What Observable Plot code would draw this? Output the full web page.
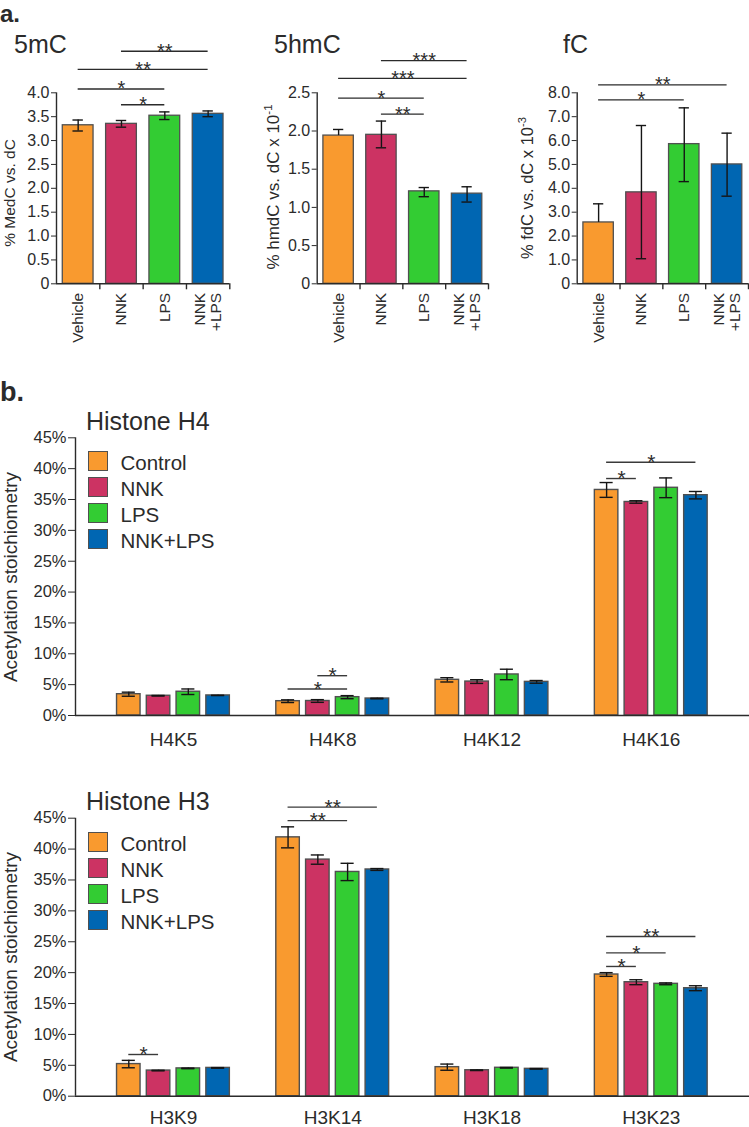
<!DOCTYPE html>
<html>
<head>
<meta charset="utf-8">
<script src="https://cdn.jsdelivr.net/npm/d3@7"></script>
<script src="https://cdn.jsdelivr.net/npm/@observablehq/plot@0.6"></script>
<style>
  body { margin: 0; background: #fff; }
  #root { position: relative; width: 749px; height: 1127px; overflow: hidden; background: #fff;
          font-family: "Liberation Sans", Arial, Helvetica, sans-serif; color: #2b2b2b; }
  .abs { position: absolute; white-space: nowrap; line-height: 1; }
  .abs svg { overflow: visible; }
  sup { font-size: 0.68em; vertical-align: 0.6em; line-height: 0; }
</style>
</head>
<body>
<div id="root"></div>
<script>
// ---------------- data ----------------
const treatmentsA = ["Vehicle", "NNK", "LPS", "NNK\n+LPS"];
const treatmentsB = ["Control", "NNK", "LPS", "NNK+LPS"];
const colors = ["#F99A2F", "#CC3363", "#33CC33", "#0066B2"];

// panel a: 5mC (% MedC vs. dC)
const mC_mean = [3.32, 3.35, 3.52, 3.56];
const mC_lo   = [3.20, 3.28, 3.44, 3.50];
const mC_hi   = [3.43, 3.42, 3.60, 3.62];
const mC_sig  = [{a: 1, b: 3, s: "**", y: 4.87}, {a: 0, b: 3, s: "**", y: 4.49},
                 {a: 0, b: 2, s: "*", y: 4.08}, {a: 1, b: 2, s: "*", y: 3.75}];
const mC_ticks = [0, 0.5, 1, 1.5, 2, 2.5, 3, 3.5, 4];

// panel a: 5hmC (% hmdC vs. dC x 10^-1)
const hmC_mean = [1.94, 1.95, 1.21, 1.18];
const hmC_lo   = [1.94, 1.78, 1.14, 1.07];
const hmC_hi   = [2.02, 2.13, 1.26, 1.27];
const hmC_sig  = [{a: 1, b: 3, s: "***", y: 2.92}, {a: 0, b: 3, s: "***", y: 2.69},
                  {a: 0, b: 2, s: "*", y: 2.43}, {a: 1, b: 2, s: "**", y: 2.22}];
const hmC_ticks = [0, 0.5, 1, 1.5, 2, 2.5];

// panel a: fC (% fdC vs. dC x 10^-3)
const fC_mean = [2.57, 3.83, 5.85, 5.00];
const fC_lo   = [2.57, 1.05, 4.28, 3.67];
const fC_hi   = [3.35, 6.63, 7.37, 6.31];
const fC_sig  = [{a: 0, b: 3, s: "**", y: 8.33}, {a: 0, b: 2, s: "*", y: 7.70}];
const fC_ticks = [0, 1, 2, 3, 4, 5, 6, 7, 8];

// panel b: Histone H4 acetylation stoichiometry (%)
const h4Sites = ["H4K5", "H4K8", "H4K12", "H4K16"];
const h4Mean = [[3.45, 3.20, 3.85, 3.25], [2.32, 2.35, 2.97, 2.75], [5.78, 5.50, 6.65, 5.45], [36.55, 34.60, 36.90, 35.70]];
const h4Err  = [[0.33, 0.05, 0.45, 0.02], [0.22, 0.22, 0.25, 0.05], [0.35, 0.30, 0.85, 0.22], [1.20, 0.20, 1.60, 0.60]];
const h4Sig  = [{g: 1, a: 0, b: 2, s: "*", y: 4.3}, {g: 1, a: 1, b: 2, s: "*", y: 6.45},
                {g: 3, a: 0, b: 1, s: "*", y: 38.4}, {g: 3, a: 0, b: 3, s: "*", y: 41.05}];

// panel b: Histone H3
const h3Sites = ["H3K9", "H3K14", "H3K18", "H3K23"];
const h3Mean = [[5.20, 4.15, 4.50, 4.58], [41.90, 38.30, 36.30, 36.70], [4.70, 4.20, 4.60, 4.43], [19.70, 18.45, 18.19, 17.48]];
const h3Err  = [[0.60, 0.05, 0.05, 0.05], [1.70, 0.75, 1.40, 0.15], [0.50, 0.05, 0.05, 0.05], [0.30, 0.40, 0.15, 0.40]];
const h3Sig  = [{g: 0, a: 0, b: 1, s: "*", y: 6.75}, {g: 1, a: 0, b: 2, s: "**", y: 44.6},
                {g: 1, a: 0, b: 3, s: "**", y: 46.8}, {g: 3, a: 0, b: 1, s: "*", y: 21.0},
                {g: 3, a: 0, b: 2, s: "*", y: 23.2}, {g: 3, a: 0, b: 3, s: "**", y: 25.85}];
const pctTicks = [0, 5, 10, 15, 20, 25, 30, 35, 40, 45];

// ---------------- helpers ----------------
const root = document.getElementById("root");
const INK = "#2b2b2b";
const plotStyle = {fontFamily: "'Liberation Sans', Arial, Helvetica, sans-serif", background: "transparent", color: INK, overflow: "visible"};

function place(node, left, top) {
  const d = document.createElement("div");
  d.className = "abs";
  d.style.left = left + "px";
  d.style.top = top + "px";
  d.appendChild(node);
  root.appendChild(d);
  return d;
}
function label(html, x, baseline, size, bold, lh) {
  const d = document.createElement("div");
  d.className = "abs";
  const l = lh || 1;
  d.style.lineHeight = String(l);
  d.style.left = x + "px";
  d.style.top = (baseline - (0.905 + (l - 1.117) / 2) * size) + "px";
  d.style.fontSize = size + "px";
  if (bold) d.style.fontWeight = "bold";
  d.innerHTML = html;
  root.appendChild(d);
}
function vlabel(html, cx, cy, size) {
  const d = document.createElement("div");
  d.className = "abs";
  d.style.left = cx + "px";
  d.style.top = cy + "px";
  d.style.fontSize = size + "px";
  d.style.transform = "translate(-50%,-50%) rotate(-90deg)";
  d.innerHTML = html;
  root.appendChild(d);
}
function legend(top0) {
  treatmentsB.forEach((t, i) => {
    const sw = document.createElement("div");
    sw.className = "abs";
    Object.assign(sw.style, {left: "88px", top: (top0 + i * 26.2) + "px", width: "18px", height: "18px",
      background: colors[i], border: "1.3px solid #505050"});
    root.appendChild(sw);
    label(t, 120.5, top0 + i * 26.2 + 19.5, 20.5);
  });
}

function panelA(cfg) {
  const n = cfg.mean.length, idx = d3.range(n);
  const caps = [];
  idx.forEach(i => {
    caps.push({i, v: cfg.hi[i]});
    if (cfg.lo[i] < cfg.mean[i]) caps.push({i, v: cfg.lo[i]});
  });
  const yMax = cfg.ticks[cfg.ticks.length - 1];
  const chart = Plot.plot({
    width: cfg.w, height: 380,
    marginLeft: cfg.ml, marginRight: cfg.mr, marginTop: 92.3, marginBottom: 96.7,
    style: plotStyle,
    x: {type: "linear", domain: [-0.5, n - 0.5]},
    y: {domain: [0, yMax]},
    color: {domain: treatmentsA, range: colors},
    marks: [
      Plot.rectY(idx, {x1: i => i - 0.355, x2: i => i + 0.355, y1: 0, y2: i => cfg.mean[i],
        fill: i => treatmentsA[i], stroke: "#505050", strokeWidth: 1.3}),
      Plot.ruleX(idx, {x: i => i, y1: i => cfg.lo[i], y2: i => cfg.hi[i], stroke: "#151515", strokeWidth: 1.4}),
      Plot.ruleY(caps, {y: "v", x1: d => d.i - 0.12, x2: d => d.i + 0.12, stroke: "#151515", strokeWidth: 1.4}),
      Plot.ruleY(cfg.sig, {y: "y", x1: "a", x2: "b", stroke: INK, strokeWidth: 1.3}),
      Plot.text(cfg.sig, {x: d => (d.a + d.b) / 2, y: "y", text: "s", fontSize: 20, lineAnchor: "middle", fill: INK}),
      Plot.ruleX([-0.5], {y1: 0, y2: yMax, stroke: INK, strokeWidth: 1.4}),
      Plot.ruleY([0], {x1: -0.5, x2: n - 0.5, stroke: INK, strokeWidth: 1.4}),
      Plot.ruleX(d3.range(0.5, n), {y1: 0, y2: 0, insetBottom: -6, stroke: INK, strokeWidth: 1.4}),
      Plot.axisY({ticks: cfg.ticks, tickSize: 5, tickPadding: 2, fontSize: 16, label: null,
        tickFormat: d => d === 0 ? "0" : d.toFixed(1)}),
      Plot.axisX({ticks: idx, tickSize: 0, tickPadding: 9, tickRotate: -90, fontSize: 15.5, label: null,
        tickFormat: i => treatmentsA[i]})
    ]
  });
  place(chart, cfg.left, 0);
}

const G = 5.35;           // spacing between lysine groups, in bar steps
const bDomain = [-1.79, 20.85];

function panelB(cfg) {
  const data = [];
  cfg.sites.forEach((s, g) => treatmentsB.forEach((t, i) =>
    data.push({g, i, t, x: g * G + i, m: cfg.mean[g][i], e: cfg.err[g][i]})));
  const caps = data.flatMap(d => [{x: d.x, v: d.m + d.e}, {x: d.x, v: d.m - d.e}]);
  const chart = Plot.plot({
    width: 749, height: cfg.h,
    marginLeft: 75, marginRight: 0, marginTop: cfg.mt, marginBottom: cfg.mb,
    style: plotStyle,
    x: {type: "linear", domain: bDomain},
    y: {domain: [0, 45]},
    color: {domain: treatmentsB, range: colors},
    marks: [
      Plot.rectY(data, {x1: d => d.x - 0.395, x2: d => d.x + 0.395, y1: 0, y2: "m",
        fill: "t", stroke: "#505050", strokeWidth: 1.4}),
      Plot.ruleX(data, {x: "x", y1: d => d.m - d.e, y2: d => d.m + d.e, stroke: "#151515", strokeWidth: 1.4}),
      Plot.ruleY(caps, {y: "v", x1: d => d.x - 0.22, x2: d => d.x + 0.22, stroke: "#151515", strokeWidth: 1.4}),
      Plot.ruleY(cfg.sig, {y: "y", x1: d => d.g * G + d.a, x2: d => d.g * G + d.b, stroke: "#3a3a3a", strokeWidth: 1.4}),
      Plot.text(cfg.sig, {x: d => d.g * G + (d.a + d.b) / 2, y: "y", text: "s", fontSize: 21, lineAnchor: "middle", fill: INK}),
      Plot.ruleX([bDomain[0]], {y1: 0, y2: 45, stroke: INK, strokeWidth: 1.4}),
      Plot.ruleY([0], {stroke: INK, strokeWidth: 1.4}),
      Plot.axisY({ticks: pctTicks, tickSize: 7, tickPadding: 2, fontSize: 16.5, label: null,
        tickFormat: d => d + "%"}),
      Plot.axisX({ticks: cfg.sites.map((s, g) => g * G + 1.5), tickSize: 0, tickPadding: cfg.tp, fontSize: 19, label: null,
        tickFormat: d => cfg.sites[Math.round((d - 1.5) / G)]})
    ]
  });
  place(chart, 0, cfg.top);
}

// ---------------- panel a ----------------
panelA({mean: mC_mean, lo: mC_lo, hi: mC_hi, sig: mC_sig, ticks: mC_ticks, left: 0, w: 250, ml: 56, mr: 20.7});
panelA({mean: hmC_mean, lo: hmC_lo, hi: hmC_hi, sig: hmC_sig, ticks: hmC_ticks, left: 250, w: 250, ml: 66.7, mr: 12});
panelA({mean: fC_mean, lo: fC_lo, hi: fC_hi, sig: fC_sig, ticks: fC_ticks, left: 500, w: 249, ml: 76.7, mr: 1});

label("a.", 0, 22, 24, true);
label("5mC", 14, 53, 25);
label("5hmC", 274, 53, 25);
label("fC", 563, 53, 25);
vlabel("% MedC vs. dC", 10, 193, 15.5);
vlabel("% hmdC vs. dC x 10<sup>-1</sup>", 273, 187, 17);
vlabel("% fdC vs. dC x 10<sup>-3</sup>", 527, 188, 16.5);

// ---------------- panel b ----------------
panelB({sites: h4Sites, mean: h4Mean, err: h4Err, sig: h4Sig, top: 380, h: 380, mt: 57.3, mb: 45, tp: 17});
panelB({sites: h3Sites, mean: h3Mean, err: h3Err, sig: h3Sig, top: 760, h: 367, mt: 57.7, mb: 31.3, tp: 14.5});

label("b.", 0, 401.5, 27, true);
label("Histone H4", 86, 430, 25);
label("Histone H3", 86, 810, 25);
vlabel("Acetylation stoichiometry", 10, 576.5, 19);
vlabel("Acetylation stoichiometry", 10, 956.5, 19);
legend(450.7);
legend(831.7);
</script>
</body>
</html>
